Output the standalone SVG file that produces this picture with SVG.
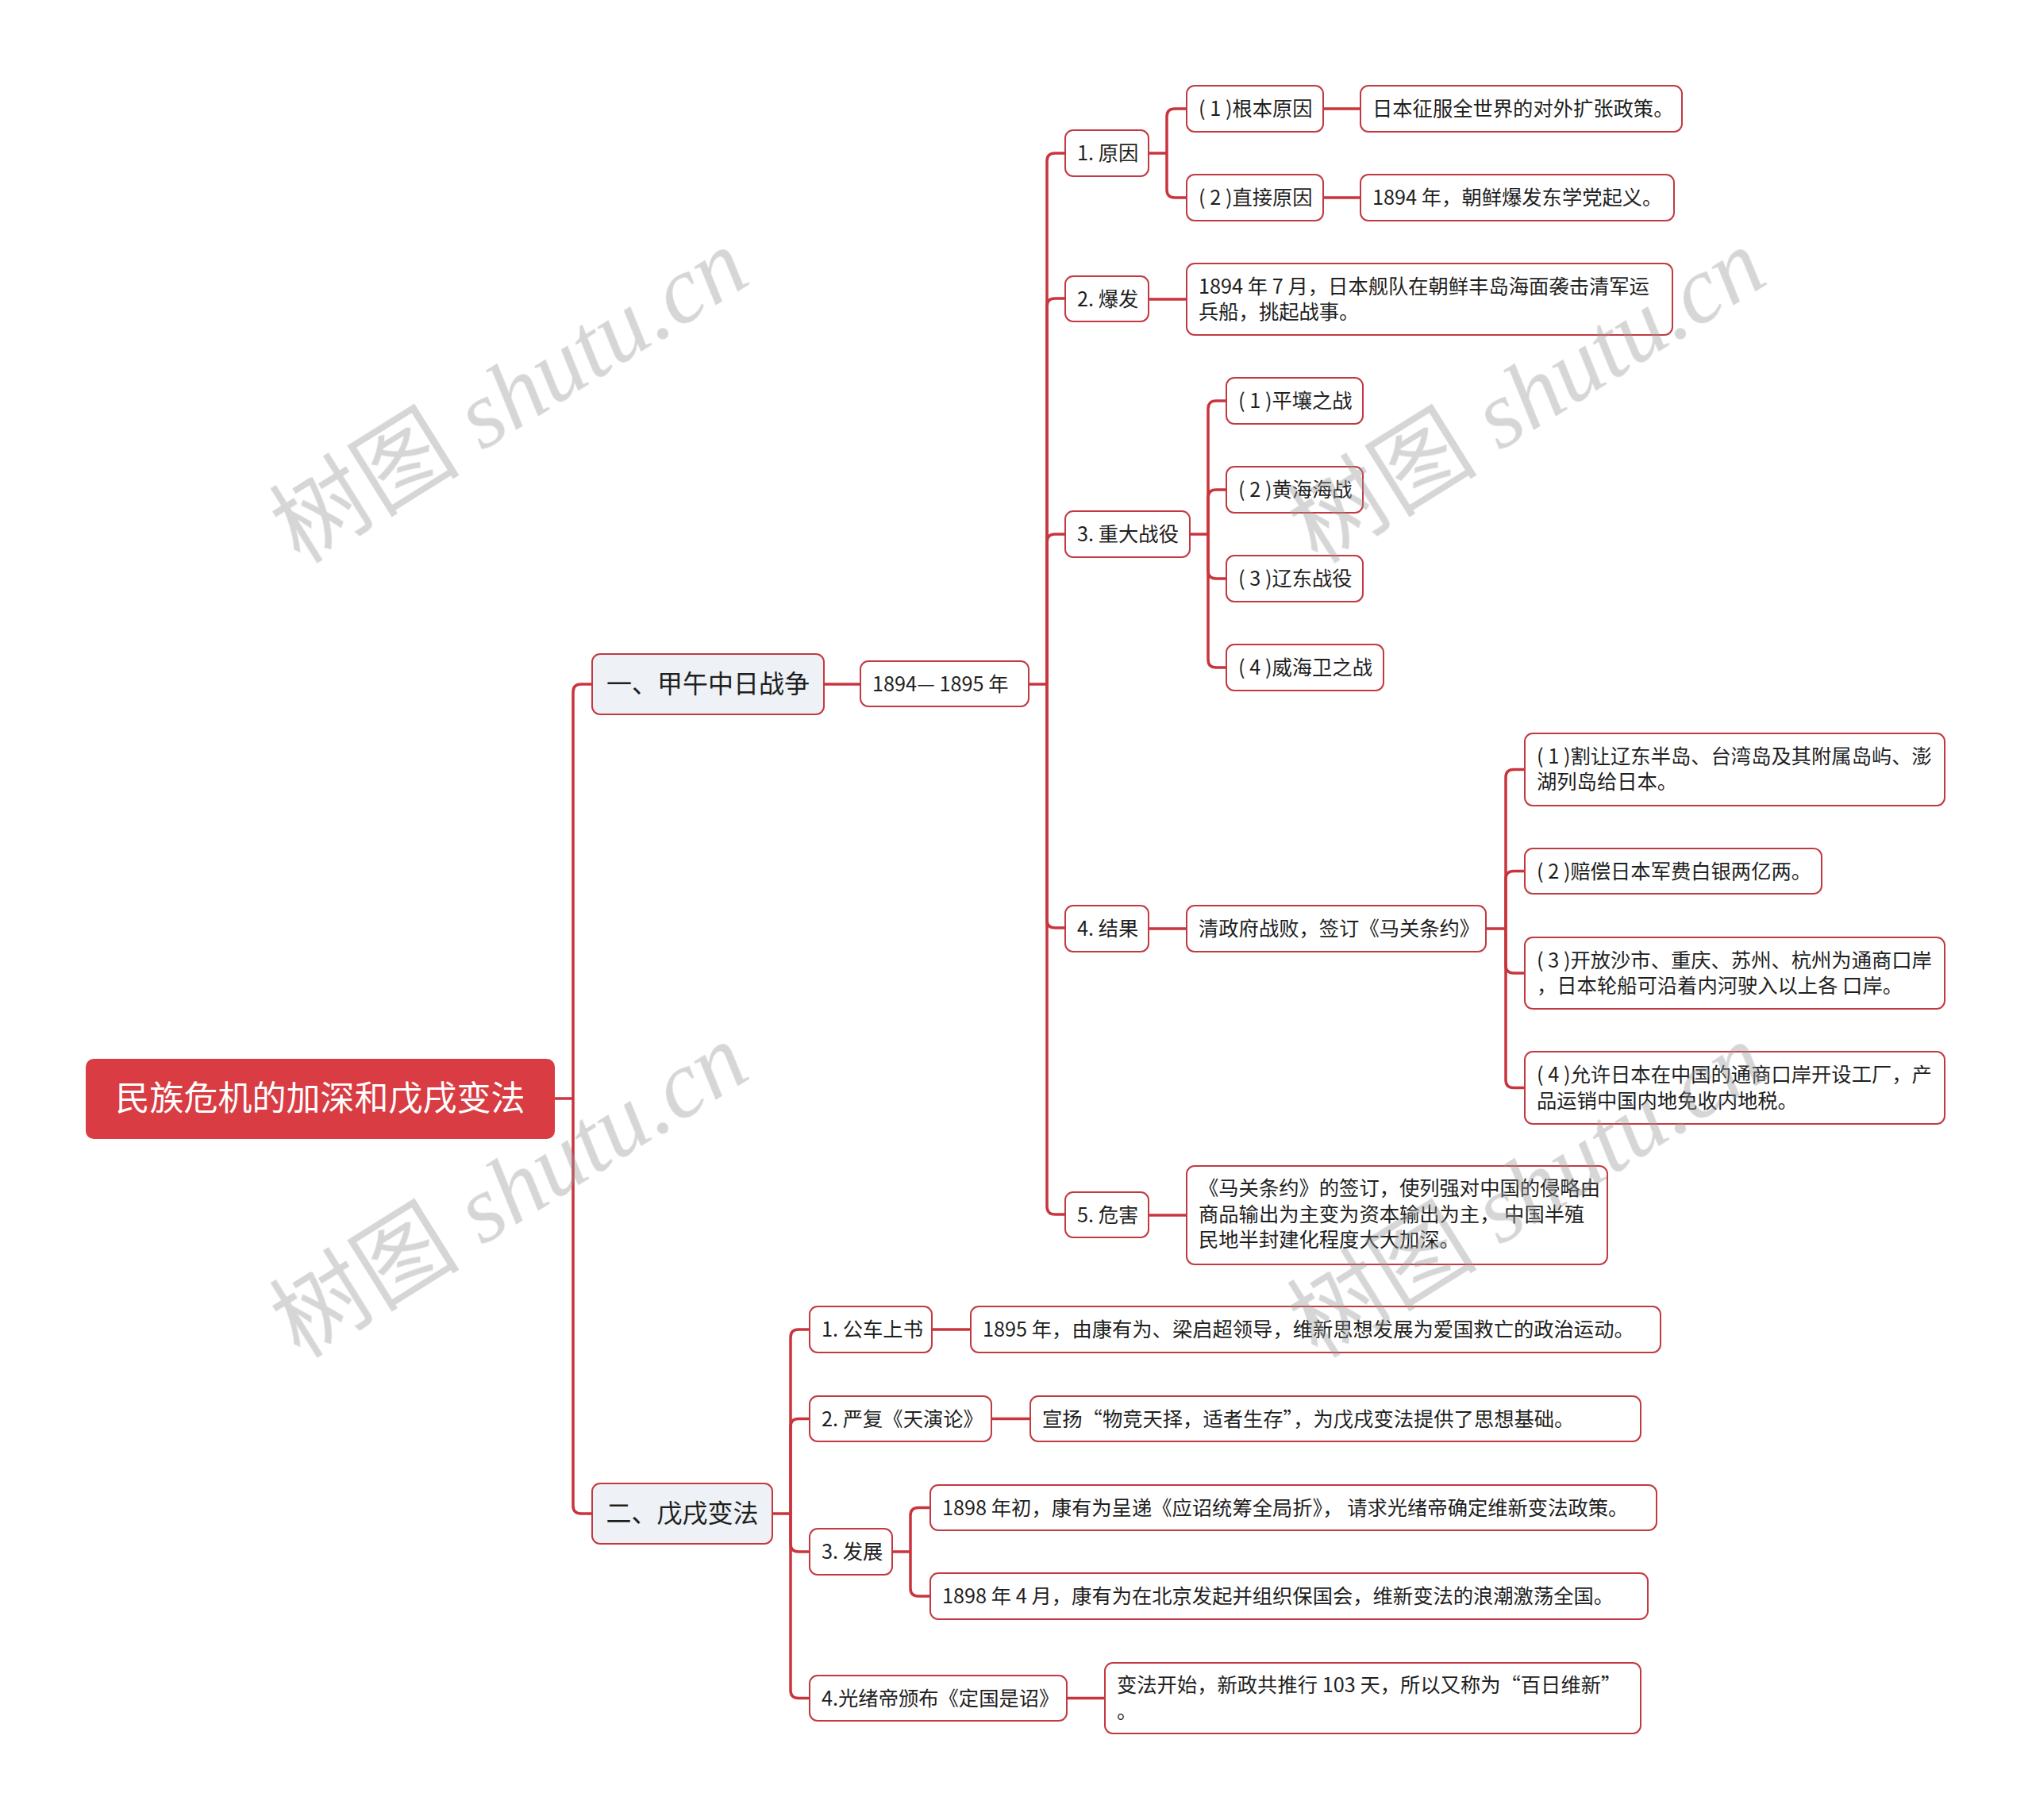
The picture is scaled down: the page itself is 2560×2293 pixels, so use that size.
<svg xmlns="http://www.w3.org/2000/svg" width="2560" height="2293" viewBox="0 0 2560 2293">
<style>
.bg{fill:#ffffff}
.n{fill:#ffffff;stroke:#C23A41;stroke-width:2}
.m{fill:#EEF1F5;stroke:#C23A41;stroke-width:2}
.r{fill:#D93C43}
.t{font-family:"Noto Sans CJK SC","Noto Sans",sans-serif;font-size:25.3px;fill:#1f1f1f}
.tm{font-family:"Noto Sans CJK SC","Noto Sans",sans-serif;font-size:32px;fill:#1f1f1f;text-anchor:middle}
.tr{font-family:"Noto Sans CJK SC","Noto Sans",sans-serif;font-size:43px;fill:#ffffff;text-anchor:middle}
.c{fill:none;stroke:#C9353D;stroke-width:3.5;stroke-linejoin:round}
.wm{font-size:120px;fill:#9a9a9a;opacity:0.4}
.wmc{font-family:"Noto Sans CJK SC",sans-serif}
.wml{font-family:"Liberation Serif",serif;font-style:italic}
</style>
<rect class="bg" x="0" y="0" width="2560" height="2293"/>

<g id="connectors">
  <path class="c" d="M699,1384 H722"/>
  <path class="c" d="M722,1384 V872 Q722,862 732,862 H746"/>
  <path class="c" d="M722,1384 V1897 Q722,1907 732,1907 H746"/>
  <path class="c" d="M1038,862 H1084"/>
  <path class="c" d="M1296,862 H1319"/>
  <path class="c" d="M1319,862 V203 Q1319,193 1329,193 H1342"/>
  <path class="c" d="M1319,862 V386 Q1319,376 1329,376 H1342"/>
  <path class="c" d="M1319,862 V683 Q1319,673 1329,673 H1342"/>
  <path class="c" d="M1319,862 V1159 Q1319,1169 1329,1169 H1342"/>
  <path class="c" d="M1319,862 V1520 Q1319,1530 1329,1530 H1342"/>
  <path class="c" d="M1447,193 H1470"/>
  <path class="c" d="M1470,193 V147 Q1470,137 1480,137 H1495"/>
  <path class="c" d="M1470,193 V239 Q1470,249 1480,249 H1495"/>
  <path class="c" d="M1667,137 H1714"/>
  <path class="c" d="M1667,249 H1714"/>
  <path class="c" d="M1447,377 H1495"/>
  <path class="c" d="M1499,673 H1522"/>
  <path class="c" d="M1522,673 V515 Q1522,505 1532,505 H1545"/>
  <path class="c" d="M1522,673 V627 Q1522,617 1532,617 H1545"/>
  <path class="c" d="M1522,673 V719 Q1522,729 1532,729 H1545"/>
  <path class="c" d="M1522,673 V831 Q1522,841 1532,841 H1545"/>
  <path class="c" d="M1447,1170 H1495"/>
  <path class="c" d="M1872,1170 H1897"/>
  <path class="c" d="M1897,1170 V979.5 Q1897,969.5 1907,969.5 H1921"/>
  <path class="c" d="M1897,1170 V1107.5 Q1897,1097.5 1907,1097.5 H1921"/>
  <path class="c" d="M1897,1170 V1216 Q1897,1226 1907,1226 H1921"/>
  <path class="c" d="M1897,1170 V1360.5 Q1897,1370.5 1907,1370.5 H1921"/>
  <path class="c" d="M1447,1531 H1495"/>
  <path class="c" d="M973,1907 H996"/>
  <path class="c" d="M996,1907 V1685 Q996,1675 1006,1675 H1020"/>
  <path class="c" d="M996,1907 V1797.5 Q996,1787.5 1006,1787.5 H1020"/>
  <path class="c" d="M996,1907 V1945 Q996,1955 1006,1955 H1020"/>
  <path class="c" d="M996,1907 V2129.5 Q996,2139.5 1006,2139.5 H1020"/>
  <path class="c" d="M1174,1675 H1223"/>
  <path class="c" d="M1249,1787.5 H1298"/>
  <path class="c" d="M1124,1955 H1147"/>
  <path class="c" d="M1147,1955 V1909.5 Q1147,1899.5 1157,1899.5 H1172"/>
  <path class="c" d="M1147,1955 V2001 Q1147,2011 1157,2011 H1172"/>
  <path class="c" d="M1344,2139.5 H1392"/>
</g>

<g id="root">
  <rect class="r" x="108" y="1334" width="591" height="101" rx="10"/>
  <text class="tr" x="403.5" y="1399">民族危机的加深和戊戌变法</text>
</g>

<g id="main1">
  <rect class="m" x="746" y="824" width="292" height="76" rx="10"/>
  <text class="tm" x="892" y="873">一、甲午中日战争</text>
</g>
<g id="period">
  <rect class="n" x="1084" y="833" width="212" height="57" rx="10"/>
  <text class="t" x="1099" y="871">1894— 1895 年</text>
</g>

<g id="n1-cause">
  <rect class="n" x="1342" y="164" width="105" height="58" rx="10"/>
  <text class="t" x="1357" y="202">1. 原因</text>
</g>
<g id="n1-cause-1">
  <rect class="n" x="1495" y="108" width="172" height="58" rx="10"/>
  <text class="t" x="1510" y="146">( 1 )根本原因</text>
</g>
<g id="n1-cause-1-d">
  <rect class="n" x="1714" y="108" width="405" height="58" rx="10"/>
  <text class="t" x="1729" y="146">日本征服全世界的对外扩张政策。</text>
</g>
<g id="n1-cause-2">
  <rect class="n" x="1495" y="220" width="172" height="58" rx="10"/>
  <text class="t" x="1510" y="258">( 2 )直接原因</text>
</g>
<g id="n1-cause-2-d">
  <rect class="n" x="1714" y="220" width="395" height="58" rx="10"/>
  <text class="t" x="1729" y="258">1894 年，朝鲜爆发东学党起义。</text>
</g>

<g id="n2-outbreak">
  <rect class="n" x="1342" y="348" width="105" height="57" rx="10"/>
  <text class="t" x="1357" y="386">2. 爆发</text>
</g>
<g id="n2-outbreak-d">
  <rect class="n" x="1495" y="332" width="612" height="90" rx="10"/>
  <text class="t" x="1510" y="370">1894 年 7 月，日本舰队在朝鲜丰岛海面袭击清军运</text>
  <text class="t" x="1510" y="402">兵船，挑起战事。</text>
</g>

<g id="n3-battles">
  <rect class="n" x="1342" y="644" width="157" height="58" rx="10"/>
  <text class="t" x="1357" y="682">3. 重大战役</text>
</g>
<g id="n3-b1">
  <rect class="n" x="1545" y="476" width="172" height="58" rx="10"/>
  <text class="t" x="1560" y="514">( 1 )平壤之战</text>
</g>
<g id="n3-b2">
  <rect class="n" x="1545" y="588" width="172" height="58" rx="10"/>
  <text class="t" x="1560" y="626">( 2 )黄海海战</text>
</g>
<g id="n3-b3">
  <rect class="n" x="1545" y="700" width="172" height="58" rx="10"/>
  <text class="t" x="1560" y="738">( 3 )辽东战役</text>
</g>
<g id="n3-b4">
  <rect class="n" x="1545" y="812" width="198" height="58" rx="10"/>
  <text class="t" x="1560" y="850">( 4 )威海卫之战</text>
</g>

<g id="n4-result">
  <rect class="n" x="1342" y="1141" width="105" height="58" rx="10"/>
  <text class="t" x="1357" y="1179">4. 结果</text>
</g>
<g id="n4-result-d">
  <rect class="n" x="1495" y="1141" width="377" height="58" rx="10"/>
  <text class="t" x="1510" y="1179">清政府战败，签订《马关条约》</text>
</g>
<g id="n4-r1">
  <rect class="n" x="1921" y="924" width="529" height="91" rx="10"/>
  <text class="t" x="1936" y="962">( 1 )割让辽东半岛、台湾岛及其附属岛屿、澎</text>
  <text class="t" x="1936" y="994">湖列岛给日本。</text>
</g>
<g id="n4-r2">
  <rect class="n" x="1921" y="1069" width="374" height="57" rx="10"/>
  <text class="t" x="1936" y="1107">( 2 )赔偿日本军费白银两亿两。</text>
</g>
<g id="n4-r3">
  <rect class="n" x="1921" y="1181" width="529" height="90" rx="10"/>
  <text class="t" x="1936" y="1219">( 3 )开放沙市、重庆、苏州、杭州为通商口岸</text>
  <text class="t" x="1936" y="1251">，日本轮船可沿着内河驶入以上各 口岸。</text>
</g>
<g id="n4-r4">
  <rect class="n" x="1921" y="1325" width="529" height="91" rx="10"/>
  <text class="t" x="1936" y="1363">( 4 )允许日本在中国的通商口岸开设工厂，产</text>
  <text class="t" x="1936" y="1396">品运销中国内地免收内地税。</text>
</g>

<g id="n5-harm">
  <rect class="n" x="1342" y="1502" width="105" height="57" rx="10"/>
  <text class="t" x="1357" y="1540">5. 危害</text>
</g>
<g id="n5-harm-d">
  <rect class="n" x="1495" y="1469" width="530" height="124" rx="10"/>
  <text class="t" x="1510" y="1506">《马关条约》的签订，使列强对中国的侵略由</text>
  <text class="t" x="1510" y="1539">商品输出为主变为资本输出为主， 中国半殖</text>
  <text class="t" x="1510" y="1571">民地半封建化程度大大加深。</text>
</g>

<g id="main2">
  <rect class="m" x="746" y="1869" width="227" height="76" rx="10"/>
  <text class="tm" x="859.5" y="1918">二、戊戌变法</text>
</g>
<g id="m2-1">
  <rect class="n" x="1020" y="1646" width="154" height="58" rx="10"/>
  <text class="t" x="1035" y="1684">1. 公车上书</text>
</g>
<g id="m2-1-d">
  <rect class="n" x="1223" y="1646" width="869" height="58" rx="10"/>
  <text class="t" x="1238" y="1684">1895 年，由康有为、梁启超领导，维新思想发展为爱国救亡的政治运动。</text>
</g>
<g id="m2-2">
  <rect class="n" x="1020" y="1759" width="229" height="57" rx="10"/>
  <text class="t" x="1035" y="1797">2. 严复《天演论》</text>
</g>
<g id="m2-2-d">
  <rect class="n" x="1298" y="1759" width="769" height="57" rx="10"/>
  <text class="t" x="1313" y="1797">宣扬“物竞天择，适者生存”，为戊戌变法提供了思想基础。</text>
</g>
<g id="m2-3">
  <rect class="n" x="1020" y="1926" width="104" height="58" rx="10"/>
  <text class="t" x="1035" y="1964">3. 发展</text>
</g>
<g id="m2-3-1">
  <rect class="n" x="1172" y="1871" width="915" height="57" rx="10"/>
  <text class="t" x="1187" y="1909">1898 年初，康有为呈递《应诏统筹全局折》， 请求光绪帝确定维新变法政策。</text>
</g>
<g id="m2-3-2">
  <rect class="n" x="1172" y="1982" width="904" height="58" rx="10"/>
  <text class="t" x="1187" y="2020">1898 年 4 月，康有为在北京发起并组织保国会，维新变法的浪潮激荡全国。</text>
</g>
<g id="m2-4">
  <rect class="n" x="1020" y="2111" width="324" height="57" rx="10"/>
  <text class="t" x="1035" y="2149">4.光绪帝颁布《定国是诏》</text>
</g>
<g id="m2-4-d">
  <rect class="n" x="1392" y="2095" width="675" height="89" rx="10"/>
  <text class="t" x="1407" y="2132">变法开始，新政共推行 103 天，所以又称为“百日维新”</text>
  <text class="t" x="1407" y="2165">。</text>
</g>

<g id="watermarks" class="wm">
  <text transform="translate(378,712) rotate(-32)"><tspan class="wmc">树图</tspan><tspan class="wml"> shutu.cn</tspan></text>
  <text transform="translate(1660,712) rotate(-32)"><tspan class="wmc">树图</tspan><tspan class="wml"> shutu.cn</tspan></text>
  <text transform="translate(378,1713) rotate(-32)"><tspan class="wmc">树图</tspan><tspan class="wml"> shutu.cn</tspan></text>
  <text transform="translate(1660,1713) rotate(-32)"><tspan class="wmc">树图</tspan><tspan class="wml"> shutu.cn</tspan></text>
</g>
</svg>
